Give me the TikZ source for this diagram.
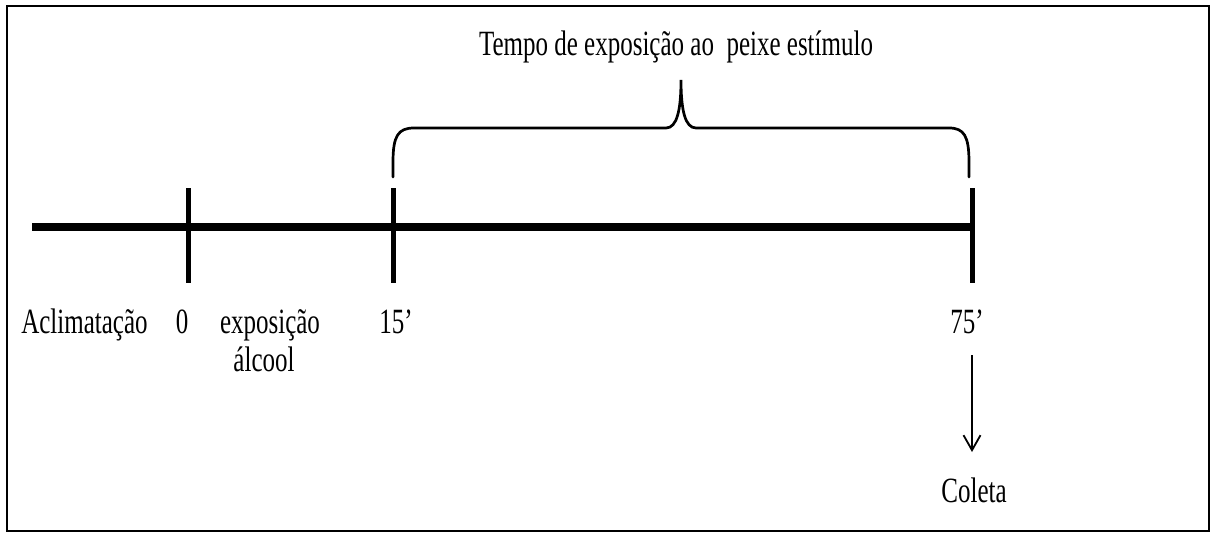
\documentclass[tikz,border=0pt]{standalone}
\usepackage{fontspec}
\setmainfont{Liberation Serif}
\usetikzlibrary{arrows.meta}
\newcommand{\tall}[1]{\scalebox{1}[1.42]{#1}}
\begin{document}
\begin{tikzpicture}[x=1pt,y=-1pt,
  lbl/.style={anchor=base,inner sep=0pt,font=\fontsize{25}{30}\selectfont},
  axis/.style={line width=7.5pt},
  tick/.style={line width=5pt},
  brace/.style={line width=2.7pt,line cap=round},
  frame/.style={line width=2pt}]
\useasboundingbox (0,0) rectangle (1212,533);
\draw[frame] (6.5,5.7) rectangle (1209,530.5);
% coordinates
\coordinate (start) at (32,227);
\coordinate (t0top) at (188,188);
\coordinate (t0bot) at (188,283);
\coordinate (t15top) at (393,188);
\coordinate (t15bot) at (393,283);
\coordinate (t75top) at (972,188);
\coordinate (t75bot) at (972,283);
\coordinate (end) at (972,227);
% timeline
\draw[axis] (start) -- (end);
\draw[tick] (t0top) -- (t0bot);
\draw[tick] (t15top) -- (t15bot);
\draw[tick] (t75top) -- (t75bot);
% brace
\coordinate (bl) at (393,177);
\coordinate (br) at (969,177);
\coordinate (tip) at (681,80);
\draw[brace] (bl) -- (393,162) .. controls (393,136) and (398,128) .. (414,128)
  -- (666,128) .. controls (677,128) and (681,110) .. (tip)
  .. controls (681,110) and (685,128) .. (696,128)
  -- (949,128) .. controls (964,128) and (969,136) .. (969,162) -- (br);
% texts
\node[lbl] (title) at (676,55) {\tall{Tempo de exposição ao\ \ peixe estímulo}};
\node[lbl] (acl) at (84.5,333) {\tall{Aclimatação}};
\node[lbl] (zero) at (182,333) {\tall{0}};
\node[lbl] (expo) at (270,333) {\tall{exposição}};
\node[lbl] (alc) at (264,371) {\tall{álcool}};
\node[lbl] (q15) at (396,333) {\tall{15’}};
\node[lbl] (q75) at (967,333) {\tall{75’}};
\node[lbl] (col) at (974,502) {\tall{Coleta}};
% arrow
\coordinate (arrs) at (972,355);
\coordinate (arre) at (972,452);
\draw[line width=1.8pt,-{Straight Barb[length=15pt,width=17pt,line width=1.8pt]}] (arrs) -- (arre);
\end{tikzpicture}
\end{document}
